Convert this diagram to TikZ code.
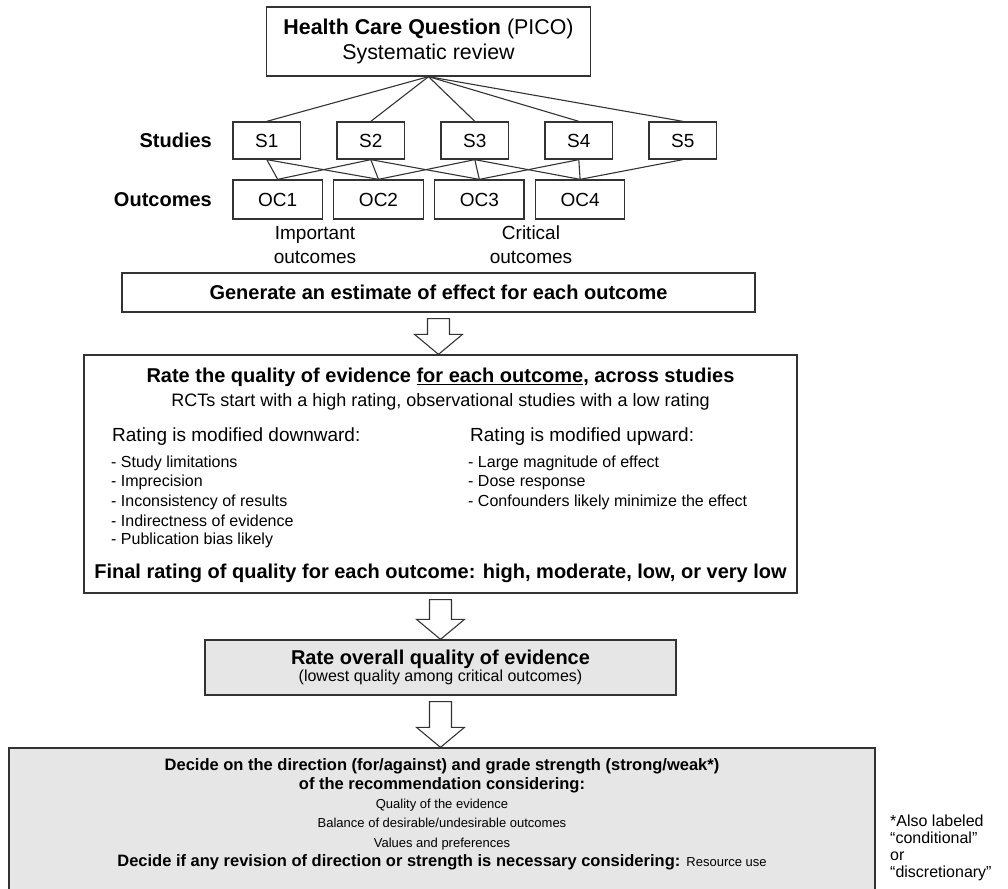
\documentclass[tikz,border=0pt]{standalone}
\usepackage{fontspec}
\setmainfont{Liberation Sans}
\usetikzlibrary{calc}
\definecolor{boxline}{HTML}{333333}
\definecolor{boxgray}{HTML}{E6E6E6}
\newcommand{\fsz}[2]{\fontsize{#1}{#2}\selectfont}
% hollow block arrow from the bottom of one box to the top of the next
\newcommand{\openarrow}[2]{%
  \path[hollow] let \p1=(#1.south), \p2=(#2.north) in
    (\x1-11pt,\y1-6pt) -- (\x1+11pt,\y1-6pt) -- (\x1+11pt,\y2+20pt) -- (\x1+24pt,\y2+20pt)
    -- (\x1,\y2) -- (\x1-24pt,\y2+20pt) -- (\x1-11pt,\y2+20pt) -- cycle;}
\begin{document}
\begin{tikzpicture}[x=1pt,y=-1pt,
    box/.style={draw=boxline, line width=1.3pt, fill=white, inner sep=0pt, align=center},
    graybox/.style={box, fill=boxgray},
    txt/.style={inner sep=0pt},
    link/.style={boxline, line width=1.1pt},
    hollow/.style={draw=boxline, line width=1.1pt, fill=white}]
\useasboundingbox (0,0) rectangle (1008,888);
\clip (0,0) rectangle (1008,888);

% question and studies
\node[box, minimum width=324, minimum height=69, font=\fsz{21.4}{25}] (pico) at (428.5,41.5)
    {\textbf{Health Care Question} (PICO)\\ Systematic review};
\foreach \i in {1,...,5}
    \node[box, minimum width=67.5, minimum height=37, font=\fsz{19}{23}] (s\i) at ({266.8+104*(\i-1)},140.5) {S\i};
\foreach \i in {1,...,4}
    \node[box, minimum width=89.4, minimum height=39, font=\fsz{19}{23}] (oc\i) at ({277.7+100.8*(\i-1)},199.5) {OC\i};
\node[txt, anchor=east, font=\fsz{20}{24}\bfseries] (studlbl) at (212,140.5) {Studies};
\node[txt, anchor=east, font=\fsz{20}{24}\bfseries] (outlbl) at (212,199.5) {Outcomes};

\foreach \i in {1,...,5}
    \draw[link] (pico.south) -- (s\i.north);
\foreach \s/\o in {1/1,1/2,2/1,2/2,2/3,3/2,3/3,3/4,4/3,4/4,5/4}
    \draw[link] (s\s.south) -- (oc\o.north);

\node[txt, align=center, font=\fsz{19}{24}] (implbl) at (315,245) {Important\\outcomes};
\node[txt, align=center, font=\fsz{19}{24}] (critlbl) at (531,245) {Critical\\outcomes};

% estimate of effect
\node[box, minimum width=633, minimum height=39, font=\fsz{20}{24}\bfseries] (gen) at (438.5,292.5)
    {Generate an estimate of effect for each outcome};

% quality per outcome
\node[box, minimum width=713, minimum height=238] (rate) at (440.5,474) {};
\node[txt, font=\fsz{20}{24}\bfseries] (ratetitle) at (440.5,377)
    {Rate the quality of evidence \underline{for each outcome}, across studies};
\node[txt, font=\fsz{18}{22}] (ratestart) at (440.5,402)
    {RCTs start with a high rating, observational studies with a low rating};
\node[txt, anchor=west, font=\fsz{19}{23}] (down) at (112,437) {Rating is modified downward:};
\node[txt, anchor=west, font=\fsz{19}{23}] (up) at (470,437) {Rating is modified upward:};
\foreach \itm [count=\k] in {Study limitations, Imprecision, Inconsistency of results, Indirectness of evidence, Publication bias likely}
    \node[txt, anchor=west, font=\fsz{16}{19}] (down\k) at (111,{444+19.3*\k}) {- \itm};
\foreach \itm [count=\k] in {Large magnitude of effect, Dose response, Confounders likely minimize the effect}
    \node[txt, anchor=west, font=\fsz{16}{19}] (up\k) at (468,{444+19.3*\k}) {- \itm};
\node[txt, font=\fsz{20}{24}\bfseries] (final) at (440.5,573)
    {Final rating of quality for each outcome: high, moderate, low, or very low};

% overall quality
\node[graybox, minimum width=471, minimum height=55] (overall) at (440.5,667.5)
    {\fsz{20}{19}\textbf{Rate overall quality of evidence}\\ \fsz{16}{19}(lowest quality among critical outcomes)};

% recommendation
\node[graybox, minimum width=866, minimum height=157] (decide) at (442,826.5) {};
\node[txt, align=center, font=\fsz{16.5}{19.2}] (decidetxt) at (442,814)
    {\textbf{Decide on the direction (for/against) and grade strength (strong/weak*)}\\
     \textbf{of the recommendation considering:}\\
     {\fsz{13}{19.2}Quality of the evidence}\\
     {\fsz{13}{19.2}Balance of desirable/undesirable outcomes}\\
     {\fsz{13}{19.2}Values and preferences}\\
     \textbf{Decide if any revision of direction or strength is necessary considering:} {\fsz{13}{19.2}Resource use}};
\node[txt, anchor=west, align=left, font=\fsz{16}{17}] (note) at (890,848)
    {*Also labeled\\“conditional”\\or\\“discretionary”};

\openarrow{gen}{rate}
\openarrow{rate}{overall}
\openarrow{overall}{decide}
\end{tikzpicture}
\end{document}
